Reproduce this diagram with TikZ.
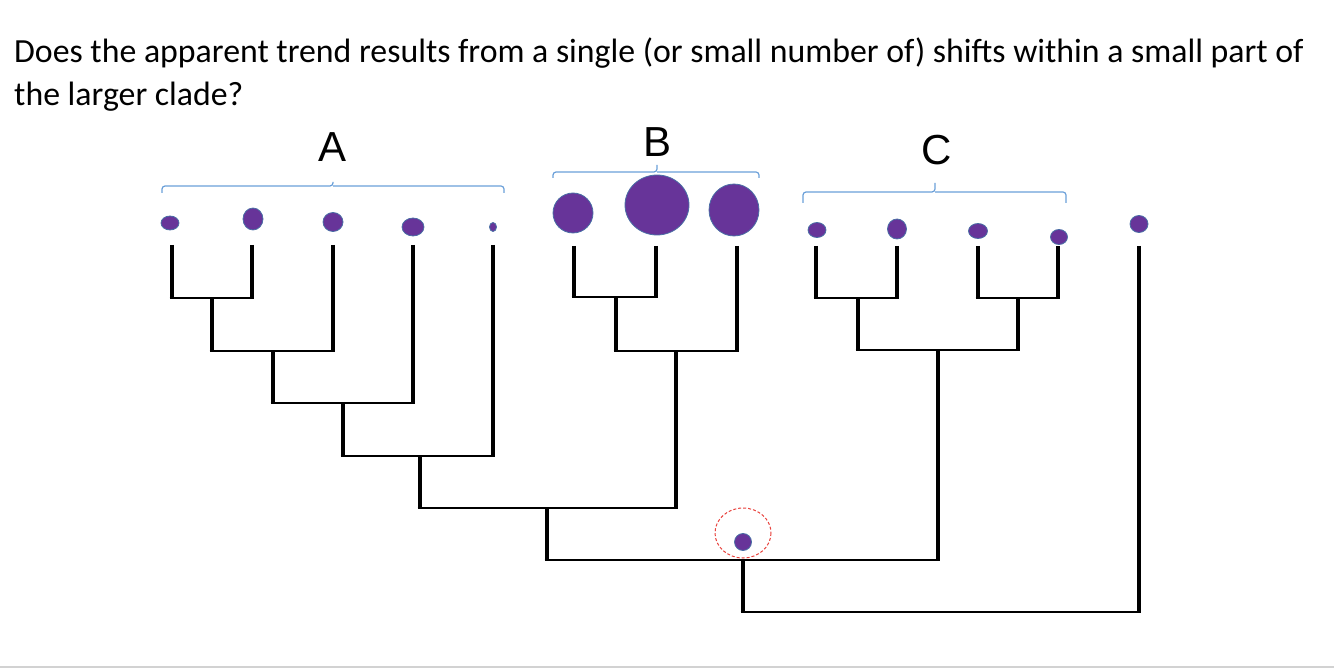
\documentclass[tikz,border=0pt]{standalone}
\usepackage{fontspec}
\setmainfont{Carlito}
\newfontfamily\labelfont{Liberation Sans}
\usetikzlibrary{shapes.geometric}
\definecolor{dotfill}{HTML}{673499}
\definecolor{dotedge}{HTML}{4A6FA5}
\definecolor{bracecol}{HTML}{6A9FD8}
\definecolor{redash}{HTML}{E8413C}
\begin{document}
\begin{tikzpicture}[x=1pt,y=-1pt,
  dot/.style={ellipse,draw=dotedge,line width=0.8pt,fill=dotfill,inner sep=0pt,outer sep=0pt},
  vert/.style={line width=4.8pt,black},
  horz/.style={line width=2.8pt,black},
  bracket/.style={draw=bracecol,line width=1.2pt,rounded corners=3pt},
  cladelabel/.style={font=\labelfont\fontsize{42}{48}\selectfont,inner sep=0pt},
  title/.style={font=\fontsize{33.8}{43}\selectfont,anchor=base west,inner sep=0pt}]
\useasboundingbox (0,0) rectangle (1334,668);
\fill[gray!35] (0,665.5) rectangle (1334,668);

% title
\node[title] (t1) at (14,63) {Does the apparent trend results from a single (or small number of) shifts within a small part of};
\node[title] (t2) at (14,106) {the larger clade?};

% clade labels
\node[cladelabel] (LA) at (333,147) {A};
\node[cladelabel] (LB) at (658,142) {B};
\node[cladelabel] (LC) at (937,150) {C};

% brackets
\draw[bracket] (162,193) |- (333,186) -- (333,182) (333,186) -| (504,193);
\draw[bracket] (553,178) |- (657,172) -- (657,165) (657,172) -| (759,178);
\draw[bracket] (803,203) |- (935,192) -- (935,183) (935,192) -| (1066,203);

% tip dots
\node[dot,minimum width=18pt,minimum height=14pt] (da1) at (170,223) {};
\node[dot,minimum width=20pt,minimum height=22pt] (da2) at (253,219) {};
\node[dot,minimum width=20pt,minimum height=19pt] (da3) at (333,222) {};
\node[dot,minimum width=22pt,minimum height=18pt] (da4) at (413,227) {};
\node[dot,minimum width=7pt,minimum height=9pt] (da5) at (493,227) {};
\node[dot,minimum width=40pt,minimum height=40pt] (db1) at (573,213) {};
\node[dot,minimum width=64pt,minimum height=60pt] (db2) at (657,205) {};
\node[dot,minimum width=50pt,minimum height=52pt] (db3) at (734,210) {};
\node[dot,minimum width=18pt,minimum height=15pt] (dc1) at (817,230) {};
\node[dot,minimum width=19pt,minimum height=20pt] (dc2) at (897,229) {};
\node[dot,minimum width=19pt,minimum height=15pt] (dc3) at (978,231) {};
\node[dot,minimum width=17pt,minimum height=15pt] (dc4) at (1059,237) {};
\node[dot,minimum width=18pt,minimum height=17pt] (do) at (1139,224) {};

% ancestral state
\draw[redash,dashed,dash pattern=on 3pt off 2pt,line width=1pt] (743,533) ellipse [x radius=28,y radius=25];
\node[dot,minimum width=17pt,minimum height=17pt] (droot) at (743,542) {};

% tree coordinates: tips
\coordinate (a1) at (172,245);
\coordinate (a2) at (252,245);
\coordinate (a3) at (333,245);
\coordinate (a4) at (413,245);
\coordinate (a5) at (493,245);
\coordinate (b1) at (574,246);
\coordinate (b2) at (656,246);
\coordinate (b3) at (737,246);
\coordinate (c1) at (816,246);
\coordinate (c2) at (897,246);
\coordinate (c3) at (978,246);
\coordinate (c4) at (1058,246);
\coordinate (o) at (1139,246);
% internal nodes
\coordinate (nA1) at (212,298);
\coordinate (nA2) at (273,351);
\coordinate (nA3) at (343,403);
\coordinate (nA4) at (420,456);
\coordinate (nB1) at (616,297);
\coordinate (nB2) at (676,351);
\coordinate (nAB) at (547,508);
\coordinate (nC1) at (858,298);
\coordinate (nC2) at (1018,298);
\coordinate (nC3) at (938,350);
\coordinate (nABC) at (743,560);
\coordinate (root) at (743,612);

% verticals (child down to parent's level) and horizontals
\foreach \ch/\pa/\sib in {a1/nA1/a2, nA1/nA2/a3, nA2/nA3/a4, nA3/nA4/a5,
                          b1/nB1/b2, nB1/nB2/b3, nA4/nAB/nB2,
                          c1/nC1/c2, c3/nC2/c4, nC1/nC3/nC2, nAB/nABC/nC3, nABC/root/o}{
  \draw[vert] (\ch) -- (\ch |- \pa);
  \draw[vert] (\sib) -- (\sib |- \pa);
  \draw[horz] ([xshift=-2.4pt]\ch |- \pa) -- ([xshift=2.4pt]\sib |- \pa);
}
\end{tikzpicture}
\end{document}
